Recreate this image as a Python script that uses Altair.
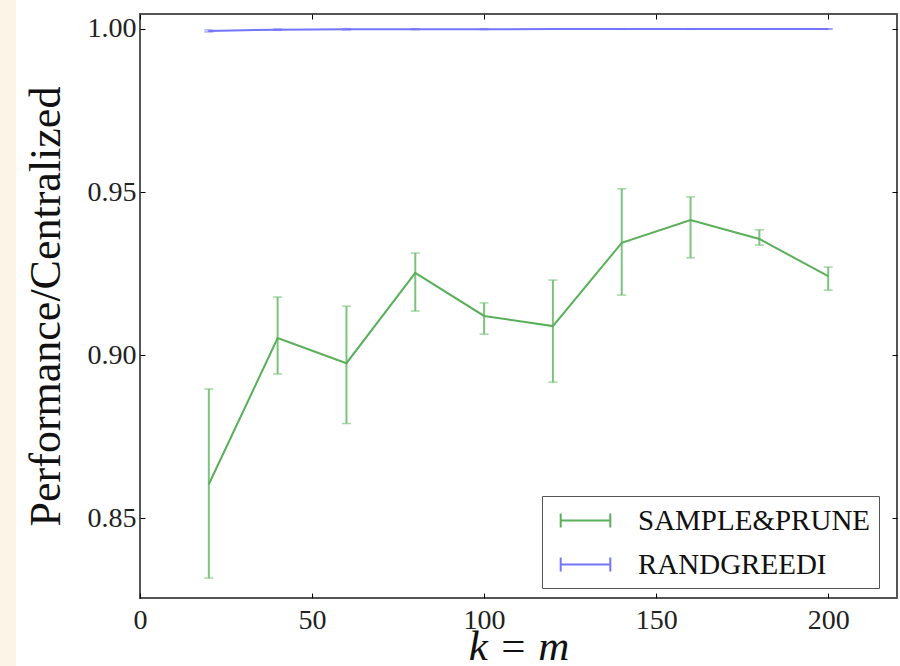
import altair as alt
import pandas as pd

# ---- data ----
k_values = [20, 40, 60, 80, 100, 120, 140, 160, 180, 200]

sp_mean = [0.8604, 0.9052, 0.8975, 0.9252, 0.9120, 0.9089, 0.9344, 0.9414, 0.9356, 0.9242]
sp_low  = [0.8316, 0.8942, 0.8790, 0.9135, 0.9064, 0.8917, 0.9184, 0.9298, 0.9337, 0.9199]
sp_high = [0.8896, 0.9178, 0.9150, 0.9313, 0.9160, 0.9230, 0.9510, 0.9485, 0.9384, 0.9270]

rg_mean = [0.9994, 0.9998, 0.9999, 0.9999, 0.9999, 1.0000, 1.0000, 1.0000, 1.0000, 1.0000]
rg_low  = [0.9991, 0.9996, 0.9997, 0.9998, 0.9998, 0.9999, 0.9999, 0.9999, 0.9999, 0.9999]
rg_high = [0.9997, 1.0000, 1.0001, 1.0001, 1.0001, 1.0001, 1.0001, 1.0001, 1.0001, 1.0001]

series_names = ["SAMPLE&PRUNE", "RANDGREEDI"]
series_colors = ["#5aaf5a", "#7474ff"]
errbar_colors = ["#7cc47c", "#8a8aff"]

x_ticks = [0, 50, 100, 150, 200]
y_ticks = [0.85, 0.90, 0.95, 1.00]

rows = []
for name, m, lo, hi in [(series_names[0], sp_mean, sp_low, sp_high),
                        (series_names[1], rg_mean, rg_low, rg_high)]:
    for k, a, b, c in zip(k_values, m, lo, hi):
        rows.append({"series": name, "k": k, "mean": a, "low": b, "high": c})
df = pd.DataFrame(rows)

FONT = "Liberation Serif"

xscale = alt.Scale(domain=[0, 220], nice=False, zero=False)
yscale = alt.Scale(domain=[0.8255, 1.0046], nice=False, zero=False)
color_scale = alt.Scale(domain=series_names, range=series_colors)
err_scale = alt.Scale(domain=series_names, range=errbar_colors)

base = alt.Chart(df)

x_axis = alt.Axis(values=x_ticks, title="k = m", domain=False, grid=False,
                  offset=-5, tickSize=5, tickColor="#000", labelPadding=8,
                  labelFlush=False,
                  labelFontSize=28, labelFont=FONT, labelColor="#222",
                  titleFont=FONT, titleFontSize=43, titleFontStyle="italic",
                  titleFontWeight="normal", titleColor="#111", titlePadding=-9)
y_axis = alt.Axis(values=y_ticks, format=".2f", title="Performance/Centralized",
                  domain=False, grid=False, offset=-5, tickSize=5, tickColor="#000",
                  labelPadding=4, labelFlush=False,
                  labelFontSize=28, labelFont=FONT, labelColor="#222",
                  titleFont=FONT, titleFontSize=44, titleFontWeight="normal",
                  titleColor="#111", titlePadding=19)

line = base.mark_line(strokeWidth=2).encode(
    x=alt.X("k:Q", scale=xscale, axis=x_axis),
    y=alt.Y("mean:Q", scale=yscale, axis=y_axis),
    color=alt.Color("series:N", scale=color_scale, sort=series_names,
                    legend=alt.Legend(
                        title=None, orient="none", legendX=402, legendY=482,
                        symbolType="M-1.6,0L1.6,0M-1.6,-0.45L-1.6,0.45M1.6,-0.45L1.6,0.45",
                        symbolSize=961, symbolStrokeWidth=2, symbolFillColor="transparent",
                        symbolOffset=19,
                        labelFont=FONT, labelFontSize=29, labelColor="#111",
                        labelExpr="datum.label + '  '",
                        labelOffset=36, rowPadding=12, padding=8,
                        strokeColor="#555", fillColor="white",
                        labelLimit=400)),
)

err = base.mark_rule(strokeWidth=2).encode(
    x=alt.X("k:Q", scale=xscale, axis=None),
    y=alt.Y("low:Q", scale=yscale, axis=None),
    y2="high:Q",
    color=alt.Color("series:N", scale=err_scale, legend=None),
)
cap_low = base.mark_tick(size=9, thickness=1.5, orient="horizontal").encode(
    x=alt.X("k:Q", scale=xscale, axis=None),
    y=alt.Y("low:Q", scale=yscale, axis=None),
    color=alt.Color("series:N", scale=err_scale, legend=None),
)
cap_high = base.mark_tick(size=9, thickness=1.5, orient="horizontal").encode(
    x=alt.X("k:Q", scale=xscale, axis=None),
    y=alt.Y("high:Q", scale=yscale, axis=None),
    color=alt.Color("series:N", scale=err_scale, legend=None),
)

strip = alt.Chart(pd.DataFrame({"a": [0]})).mark_rect(color="#fcf4e6", clip=False).encode(
    x=alt.value(-140), x2=alt.value(-124), y=alt.value(-14), y2=alt.value(652)
)

# top/right inward ticks (no labels), same explicit domains
top_axis = base.mark_point(opacity=0).encode(
    x=alt.X("k:Q", scale=xscale, axis=alt.Axis(orient="top", values=x_ticks, labels=False,
                                                title=None, domain=False, grid=False,
                                                offset=-5, tickSize=5, tickColor="#000")),
    y=alt.Y("mean:Q", scale=yscale, axis=alt.Axis(orient="right", values=y_ticks, labels=False,
                                                   title=None, domain=False, grid=False,
                                                   offset=-5, tickSize=5, tickColor="#000")),
)

chart = alt.layer(strip, err, cap_low, cap_high, line, top_axis).resolve_scale(
    x="independent", y="independent", color="independent"
).properties(
    width=757, height=584,
    autosize=alt.AutoSizeParams(type="none"),
    padding={"left": 140, "top": 14, "right": 3, "bottom": 68},
    background="white",
).configure_view(stroke="#555", strokeWidth=2)

chart.save("out.html", embed_options={"renderer": "svg", "actions": False})
